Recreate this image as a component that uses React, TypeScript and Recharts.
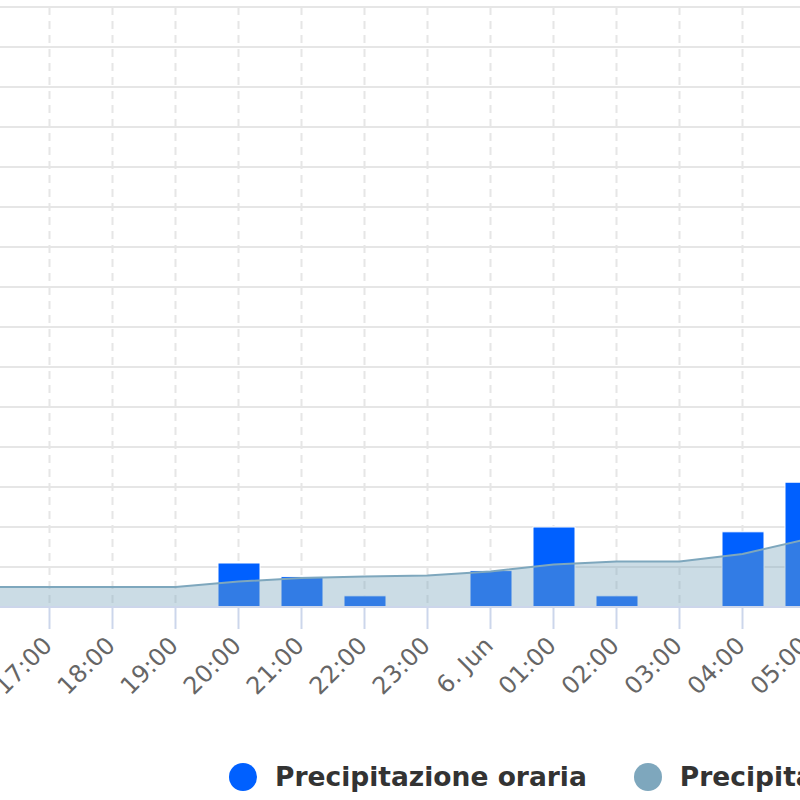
import React from "react";
import {
  ComposedChart,
  Bar,
  Area,
  XAxis,
  YAxis,
  CartesianGrid,
} from "recharts";

const hourLabels = [
  "16:00", "17:00", "18:00", "19:00", "20:00", "21:00", "22:00", "23:00",
  "6. Jun", "01:00", "02:00", "03:00", "04:00", "05:00",
];
const hourlyPrecip = [0, 0, 0, 0, 1.1, 0.76, 0.28, 0, 0.91, 2.0, 0.28, 0, 1.88, 3.12];
const cumulativePrecip = [4.0, 4.0, 4.0, 4.0, 5.1, 5.8, 6.1, 6.3, 7.1, 8.5, 9.1, 9.1, 10.6, 13.5];
const leftTicks = [0, 1, 2, 3, 4, 5, 6, 7, 8, 9, 10, 11, 12, 13, 14, 15];
const rightDomain = [0, 120];
const seriesNames = ["Precipitazione oraria", "Precipitazione cumulata"];

const data = hourLabels.map((label, i) => ({
  label,
  oraria: hourlyPrecip[i],
  cumulata: cumulativePrecip[i],
}));

const BAR_COLOR = "#0060ff";
const AREA_COLOR = "#7ea7bd";
const FONT = "'DejaVu Sans', Verdana, sans-serif";

const RotatedTick = (props: any) => {
  const { x, y, payload } = props;
  return (
    <g transform={`translate(${x + 4},${y + 16})`}>
      <text
        x={0}
        y={0}
        textAnchor="end"
        transform="rotate(-45)"
        fill="#666666"
        fontSize={24}
        fontFamily={FONT}
      >
        {payload.value}
      </text>
    </g>
  );
};

export default function App() {
  const areaProps: any = { zIndex: 450 };
  const barProps: any = { zIndex: 300 };
  return (
    <div
      style={{
        position: "absolute",
        left: 0,
        top: 0,
        width: 800,
        height: 800,
        overflow: "hidden",
        background: "#ffffff",
      }}
    >
      <div style={{ position: "absolute", left: -45.5, top: 0 }}>
        <ComposedChart
          width={900}
          height={800}
          data={data}
          margin={{ top: 7, right: 18, bottom: 0, left: 0 }}
          barCategoryGap={0}
        >
          <CartesianGrid
            yAxisId="left"
            horizontal={true}
            vertical={false}
            stroke="#e6e6e6"
            strokeWidth={2}
          />
          <CartesianGrid
            yAxisId="left"
            horizontal={false}
            vertical={true}
            stroke="#e6e6e6"
            strokeWidth={2}
            strokeDasharray="8 6"
          />
          <XAxis
            dataKey="label"
            interval={0}
            height={193}
            tick={<RotatedTick />}
            tickSize={22}
            tickLine={{ stroke: "#ccd6eb", strokeWidth: 2 }}
            axisLine={{ stroke: "#ccd6eb", strokeWidth: 2 }}
          />
          <YAxis yAxisId="left" hide domain={[0, 15]} ticks={leftTicks} />
          <YAxis yAxisId="right" hide orientation="right" domain={rightDomain} />
          <Bar
            yAxisId="left"
            dataKey="oraria"
            name={seriesNames[0]}
            fill={BAR_COLOR}
            stroke="#ffffff"
            strokeWidth={1}
            barSize={42}
            isAnimationActive={false}
            {...barProps}
          />
          <Area
            yAxisId="right"
            type="linear"
            dataKey="cumulata"
            name={seriesNames[1]}
            stroke={AREA_COLOR}
            strokeWidth={2}
            fill={AREA_COLOR}
            fillOpacity={0.4}
            dot={false}
            activeDot={false}
            isAnimationActive={false}
            {...areaProps}
          />
        </ComposedChart>
      </div>
      <div
        style={{
          position: "absolute",
          left: 229,
          top: 761,
          display: "flex",
          alignItems: "center",
          whiteSpace: "nowrap",
          fontFamily: FONT,
          fontWeight: "bold",
          fontSize: 26.5,
          color: "#333333",
        }}
      >
        <span
          style={{
            display: "inline-block",
            width: 28,
            height: 28,
            borderRadius: 14,
            background: BAR_COLOR,
            marginRight: 18,
          }}
        />
        <span>{seriesNames[0]}</span>
        <span
          style={{
            display: "inline-block",
            width: 28,
            height: 28,
            borderRadius: 14,
            background: AREA_COLOR,
            marginLeft: 47,
            marginRight: 18,
          }}
        />
        <span>{seriesNames[1]}</span>
      </div>
    </div>
  );
}
